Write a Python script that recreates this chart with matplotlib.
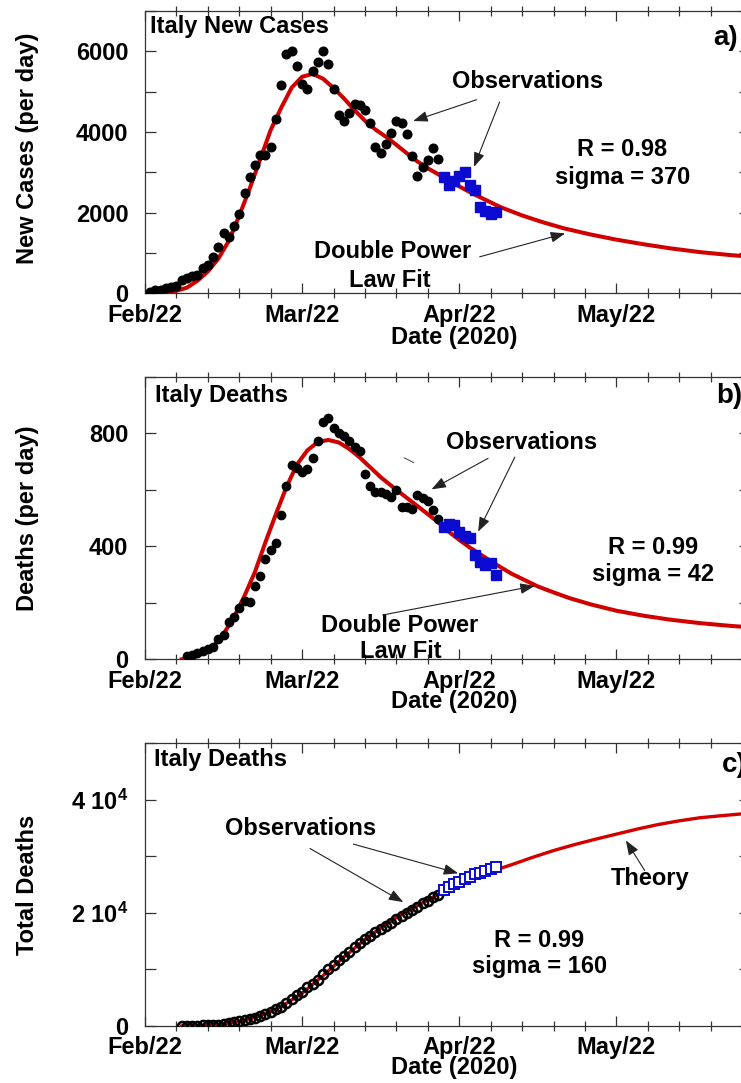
import numpy as np
import matplotlib
matplotlib.use('Agg')
import matplotlib.pyplot as plt
from matplotlib.ticker import MultipleLocator, FixedLocator

plt.rcParams['font.family'] = ['Liberation Sans', 'DejaVu Sans']
plt.rcParams['font.weight'] = 'bold'
plt.rcParams['axes.labelweight'] = 'bold'
plt.rcParams['font.size'] = 17
plt.rcParams['mathtext.fontset'] = 'custom'
plt.rcParams['mathtext.rm'] = 'Liberation Sans:bold'
plt.rcParams['mathtext.it'] = 'Liberation Sans:bold'
plt.rcParams['mathtext.default'] = 'rm'

#-----------------
# data (days since Feb 22, 2020)
#-----------------
month_days = [0, 30, 60, 90]
month_labels = ['Feb/22', 'Mar/22', 'Apr/22', 'May/22']

# a) new cases per day
cases_days = list(range(1, 57))
cases_obs = [40, 70, 80, 120, 150, 190, 330, 370, 430, 450, 620, 690, 910, 1140,
             1490, 1400, 1680, 1960, 2480, 2890, 3190, 3420, 3440, 3630, 4330, 5160,
             5940, 6010, 5630, 5200, 5060, 5510, 5730, 6000, 5690, 5070, 4430, 4270,
             4470, 4690, 4660, 4550, 4230, 3630, 3470, 3700, 3980, 4270, 4220, 3960,
             3400, 2910, 3140, 3300, 3610, 3340]
cases_new_days = list(range(57, 68))
cases_new = [2890, 2680, 2790, 2920, 3010, 2680, 2570, 2140, 2050, 1970, 2020]
cases_fit_days = [0, 2, 4, 6, 8, 10, 12, 14, 16, 18, 20, 22, 24, 26, 28, 30, 32, 34,
                  36, 38, 40, 42, 44, 46, 48, 50, 52, 54, 56, 58, 60, 62, 64, 68, 72,
                  76, 80, 85, 90, 95, 100, 106, 112, 116]
cases_fit = [0, 10, 25, 60, 140, 310, 540, 860, 1300, 1930, 2600, 3330, 4050, 4600,
             5100, 5370, 5440, 5320, 5090, 4830, 4540, 4280, 4060, 3880, 3680, 3470,
             3270, 3100, 2950, 2790, 2650, 2510, 2380, 2130, 1930, 1760, 1610, 1460,
             1330, 1220, 1120, 1020, 945, 905]

# b) deaths per day
deaths_days = list(range(8, 57))
deaths_obs = [10, 16, 24, 31, 38, 43, 72, 87, 131, 150, 182, 206, 202, 261, 295, 354,
              387, 413, 510, 614, 687, 676, 662, 673, 712, 772, 840, 853, 818, 801,
              791, 774, 752, 737, 657, 614, 592, 594, 585, 574, 600, 540, 538, 532,
              582, 570, 560, 528, 497]
deaths_new_days = list(range(57, 68))
deaths_new = [470, 478, 475, 450, 435, 430, 370, 345, 335, 340, 300]
deaths_fit_days = [7, 9, 11, 13, 15, 17, 19, 21, 23, 25, 27, 29, 31, 33, 35, 37, 39,
                   41, 43, 45, 48, 52, 56, 58, 60, 62, 64, 66, 68, 70, 72, 75, 78, 81,
                   85, 90, 95, 100, 106, 112, 116]
deaths_fit = [0, 5, 20, 45, 90, 150, 225, 310, 415, 515, 610, 690, 740, 770, 777, 768,
              745, 715, 680, 645, 600, 543, 485, 452, 423, 396, 372, 348, 325, 303,
              285, 258, 237, 217, 195, 172, 155, 141, 128, 118, 113]

# c) total deaths
total_days = list(range(7, 57))
total_obs = [30, 35, 50, 80, 110, 150, 200, 230, 370, 460, 630, 830, 1020, 1270, 1440,
             1810, 2160, 2500, 2980, 3400, 4030, 4830, 5480, 6080, 6820, 7500, 8170,
             9130, 10020, 10780, 11590, 12430, 13160, 13920, 14680, 15360, 15890,
             16520, 17130, 17670, 18280, 18850, 19470, 19900, 20470, 21070, 21650,
             22170, 22750, 23230]
total_new_days = list(range(57, 68))
total_new = [24060, 24510, 25050, 25490, 25950, 26370, 26780, 27040, 27380, 27760, 28080]
total_fit_days = [7, 10, 14, 18, 22, 26, 30, 34, 38, 42, 46, 50, 54, 58, 62, 66, 70,
                  74, 78, 82, 86, 90, 94, 98, 102, 106, 110, 116]
total_fit = [0, 40, 250, 800, 1800, 3400, 5800, 8900, 12200, 15300, 18000, 20300,
             22300, 24200, 25900, 27300, 28500, 29800, 31000, 32050, 33000, 33900,
             34800, 35600, 36250, 36800, 37150, 37650]

RED = '#d00000'
BLUE = '#0a0ad0'
EDGE = '#333333'
W, H = 741., 1083.


def box(top, bottom):
    # axes rectangle from pixel rows; right spine sits just off the picture
    return [145/W, 1-bottom/H, 605/W, (bottom-top)/H]


def frame(ax, ymax, ymaj, ymin, ylab, ylab_y, xlab_y):
    ax.set_xlim(0, 115.5)
    ax.set_ylim(0, ymax)
    ax.xaxis.set_major_locator(FixedLocator(month_days))
    ax.set_xticklabels(month_labels)
    ax.xaxis.set_minor_locator(MultipleLocator(6))
    ax.yaxis.set_major_locator(MultipleLocator(ymaj))
    ax.yaxis.set_minor_locator(MultipleLocator(ymin))
    ax.tick_params(axis='x', which='major', direction='in', length=7, width=0.9,
                   top=True, bottom=True, pad=7.5, color=EDGE)
    ax.tick_params(axis='x', which='minor', direction='inout', length=7, width=0.9,
                   top=True, bottom=True, color=EDGE)
    ax.tick_params(axis='y', which='both', direction='in', length=8, width=0.9,
                   left=True, right=True, pad=12, color=EDGE)
    for s in ax.spines.values():
        s.set_color(EDGE)
        s.set_linewidth(0.9)
    ax.set_ylabel(ylab)
    ax.yaxis.set_label_coords(-0.195, ylab_y)
    ax.yaxis.label.set_va('center')
    ax.set_xlabel('Date (2020)')
    ax.xaxis.set_label_coords(0.511, xlab_y)
    ax.xaxis.label.set_va('center')


def arrow(ax, tail, head):
    ax.annotate('', xy=head, xytext=tail,
                arrowprops=dict(arrowstyle='-|>,head_length=0.8,head_width=0.3',
                                color='#222222', lw=0.8, shrinkA=0, shrinkB=0,
                                mutation_scale=11))


fig = plt.figure(figsize=(W/100, H/100), dpi=100)

#%% a) new cases
ax = fig.add_axes(box(11, 293.3))
ax.plot(cases_fit_days, cases_fit, color=RED, lw=2.9, zorder=2)
ax.plot(cases_days, cases_obs, 'o', color='black', ms=6.2, zorder=3)
ax.plot(cases_new_days, cases_new, 's', color=BLUE, ms=7.4, zorder=4)
frame(ax, 7000, 2000, 1000, 'New Cases (per day)', 0.515, -0.158)
ax.text(0.95, 6450, 'Italy New Cases', va='baseline')
ax.text(108.4, 6160, 'a)', va='baseline', fontsize=20)
ax.text(73.1, 5100, 'Observations', ha='center', va='baseline')
ax.text(91.0, 3400, 'R = 0.98', ha='center', va='baseline')
ax.text(91.1, 2720, 'sigma = 370', ha='center', va='baseline')
ax.text(47.2, 866, 'Double Power', ha='center', va='baseline')
ax.text(46.8, 164, 'Law Fit', ha='center', va='baseline')
arrow(ax, (63.3, 4800), (51.2, 4272))
arrow(ax, (67.7, 4742), (62.8, 3134))
arrow(ax, (63.9, 905), (80.2, 1485))

#%% b) deaths per day
ax = fig.add_axes(box(377, 659.3))
ax.plot(deaths_fit_days, deaths_fit, color=RED, lw=2.9, zorder=2)
ax.plot(deaths_days, deaths_obs, 'o', color='black', ms=6.0, zorder=3)
ax.plot(deaths_new_days, deaths_new, 's', color=BLUE, ms=7.0, zorder=4)
frame(ax, 1000, 400, 200, 'Deaths (per day)', 0.5, -0.148)
ax.text(1.9, 912, 'Italy Deaths', va='baseline')
ax.text(109.1, 909, 'b)', va='baseline', fontsize=20)
ax.text(71.9, 744, 'Observations', ha='center', va='baseline')
ax.text(96.9, 372, 'R = 0.99', ha='center', va='baseline')
ax.text(96.9, 278, 'sigma = 42', ha='center', va='baseline')
ax.text(48.7, 98, 'Double Power', ha='center', va='baseline')
ax.text(48.9, 4, 'Law Fit', ha='center', va='baseline')
arrow(ax, (65.5, 712), (54.7, 602))
arrow(ax, (70.6, 716), (63.6, 452))
arrow(ax, (45.4, 157), (74.4, 260))
# leftover stroke in the original figure
ax.annotate('', xy=(51.8, 692), xytext=(49.0, 718),
            arrowprops=dict(arrowstyle='-', color='#555555', lw=0.8))

#%% c) total deaths
ax = fig.add_axes(box(743, 1026))
ax.plot(total_fit_days, total_fit, color=RED, lw=2.4, zorder=2)
ax.plot(total_days, total_obs, 'o', mfc='none', mec='black', mew=1.8, ms=6.6, zorder=3)
ax.plot(total_new_days, total_new, 's', mfc='white', mec=BLUE, mew=1.4, ms=7.0, zorder=4)
frame(ax, 50000, 20000, 10000, 'Total Deaths', 0.5, -0.147)
ax.yaxis.set_major_locator(FixedLocator([0, 20000, 40000]))
ax.set_yticklabels(['0', r'2 10$^4$', r'4 10$^4$'])
ax.text(1.7, 45920, 'Italy Deaths', va='baseline')
ax.text(110.1, 44850, 'c)', va='baseline', fontsize=20)
ax.text(29.7, 33725, 'Observations', ha='center', va='baseline')
ax.text(96.5, 24850, 'Theory', ha='center', va='baseline')
ax.text(75.2, 13970, 'R = 0.99', ha='center', va='baseline')
ax.text(75.4, 9350, 'sigma = 160', ha='center', va='baseline')
arrow(ax, (31.5, 31360), (49.3, 21890))
arrow(ax, (39.8, 32130), (59.8, 26980))
arrow(ax, (95.4, 27460), (91.8, 32790))

fig.savefig('out.png', dpi=100)
